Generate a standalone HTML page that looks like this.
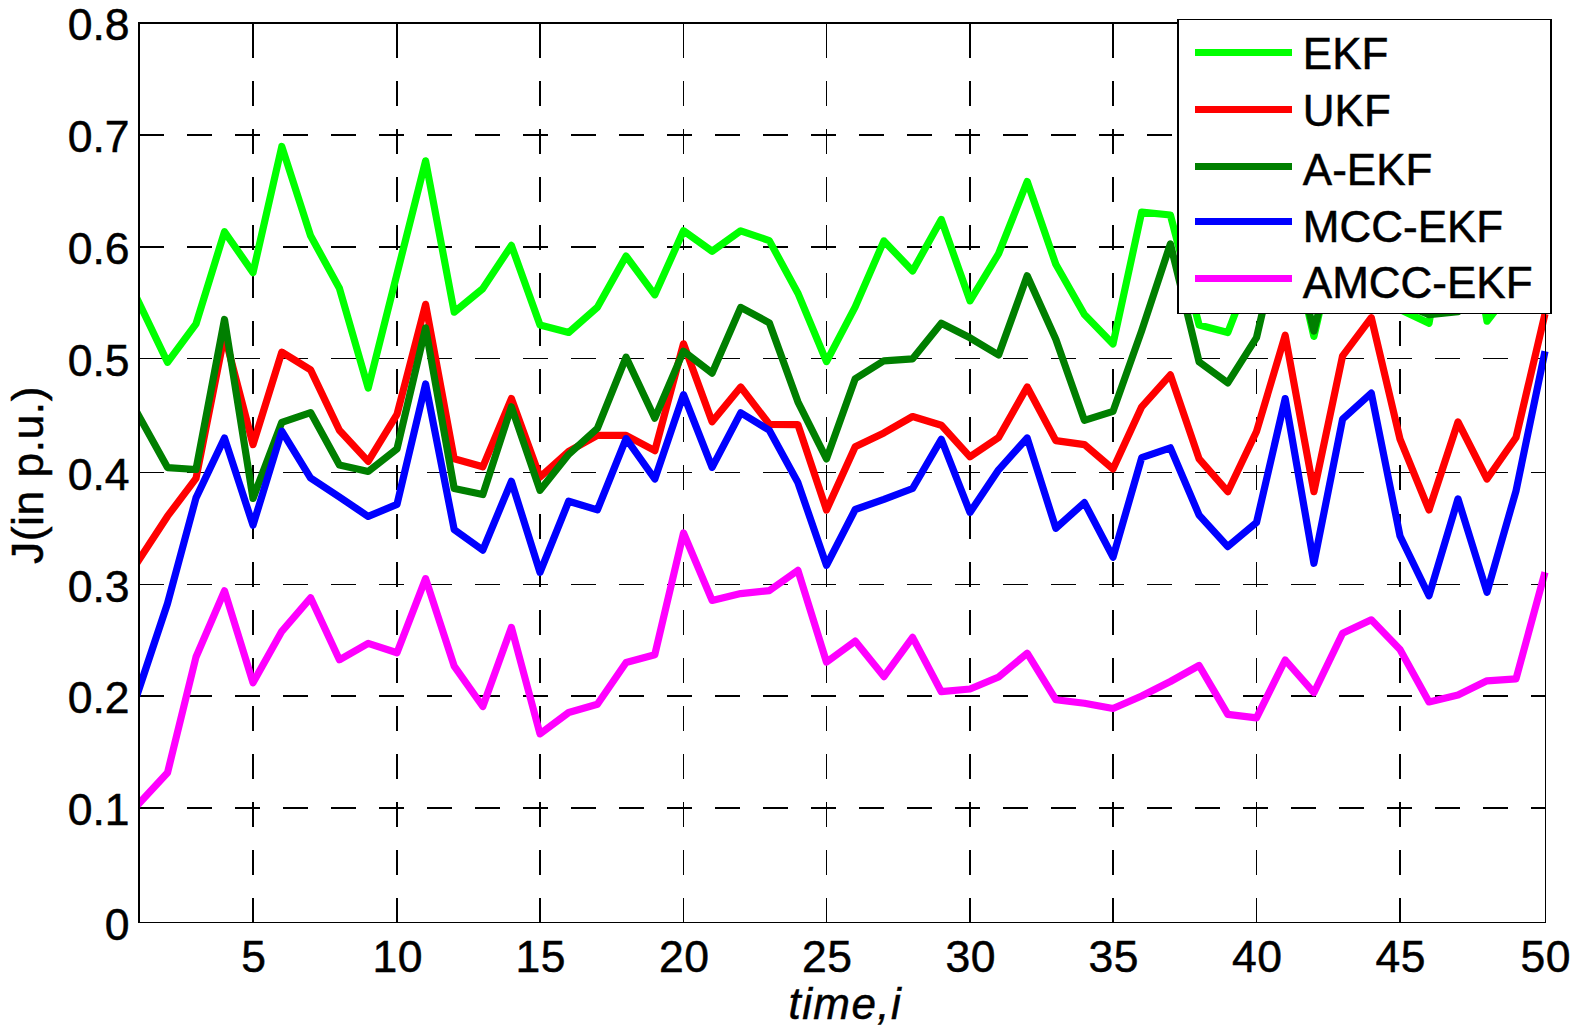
<!DOCTYPE html>
<html><head><meta charset="utf-8"><title>J(in p.u.) vs time,i</title>
<style>html,body{margin:0;padding:0;background:#fff}body{width:1579px;height:1035px;overflow:hidden}</style></head>
<body>
<svg width="1579" height="1035" viewBox="0 0 1579 1035" style="display:block" font-family='"Liberation Sans", sans-serif' font-size="44.5" fill="#000">
<style>text{stroke:#000;stroke-width:0.5px;letter-spacing:0.5px}</style>
<rect x="0" y="0" width="1579" height="1035" fill="#fff"/>
<g stroke="#000" fill="none" shape-rendering="crispEdges"><line x1="253.0" y1="923" x2="253.0" y2="22" stroke-width="2" stroke-dasharray="25 23.06"/><line x1="253.0" y1="23" x2="253.0" y2="37" stroke-width="2"/><line x1="397.0" y1="923" x2="397.0" y2="22" stroke-width="2" stroke-dasharray="25 23.06"/><line x1="397.0" y1="23" x2="397.0" y2="37" stroke-width="2"/><line x1="540.0" y1="923" x2="540.0" y2="22" stroke-width="2" stroke-dasharray="25 23.06"/><line x1="540.0" y1="23" x2="540.0" y2="37" stroke-width="2"/><line x1="683.5" y1="923" x2="683.5" y2="22" stroke-width="1" stroke-dasharray="25 23.06"/><line x1="683.5" y1="23" x2="683.5" y2="37" stroke-width="1"/><line x1="826.5" y1="923" x2="826.5" y2="22" stroke-width="1" stroke-dasharray="25 23.06"/><line x1="826.5" y1="23" x2="826.5" y2="37" stroke-width="1"/><line x1="970.0" y1="923" x2="970.0" y2="22" stroke-width="2" stroke-dasharray="25 23.06"/><line x1="970.0" y1="23" x2="970.0" y2="37" stroke-width="2"/><line x1="1113.0" y1="923" x2="1113.0" y2="22" stroke-width="2" stroke-dasharray="25 23.06"/><line x1="1113.0" y1="23" x2="1113.0" y2="37" stroke-width="2"/><line x1="1256.5" y1="923" x2="1256.5" y2="22" stroke-width="1" stroke-dasharray="25 23.06"/><line x1="1256.5" y1="23" x2="1256.5" y2="37" stroke-width="1"/><line x1="1400.0" y1="923" x2="1400.0" y2="22" stroke-width="2" stroke-dasharray="25 23.06"/><line x1="1400.0" y1="23" x2="1400.0" y2="37" stroke-width="2"/><line x1="139" y1="808.0" x2="1546" y2="808.0" stroke-width="2" stroke-dasharray="25 23"/><line x1="1531" y1="808.0" x2="1546" y2="808.0" stroke-width="2"/><line x1="139" y1="696.0" x2="1546" y2="696.0" stroke-width="2" stroke-dasharray="25 23"/><line x1="1531" y1="696.0" x2="1546" y2="696.0" stroke-width="2"/><line x1="139" y1="584.5" x2="1546" y2="584.5" stroke-width="1" stroke-dasharray="25 23"/><line x1="1531" y1="584.5" x2="1546" y2="584.5" stroke-width="1"/><line x1="139" y1="472.5" x2="1546" y2="472.5" stroke-width="1" stroke-dasharray="25 23"/><line x1="1531" y1="472.5" x2="1546" y2="472.5" stroke-width="1"/><line x1="139" y1="358.5" x2="1546" y2="358.5" stroke-width="1" stroke-dasharray="25 23"/><line x1="1531" y1="358.5" x2="1546" y2="358.5" stroke-width="1"/><line x1="139" y1="247.0" x2="1546" y2="247.0" stroke-width="2" stroke-dasharray="25 23"/><line x1="1531" y1="247.0" x2="1546" y2="247.0" stroke-width="2"/><line x1="139" y1="135.0" x2="1546" y2="135.0" stroke-width="2" stroke-dasharray="25 23"/><line x1="1531" y1="135.0" x2="1546" y2="135.0" stroke-width="2"/></g>
<clipPath id="c"><rect x="138" y="22" width="1411" height="902"/></clipPath>
<g clip-path="url(#c)" fill="none" stroke-width="7.2" stroke-linejoin="round" stroke-linecap="butt"><polyline points="136.0,296.5 139.0,302.7 167.5,362.3 196.0,323.9 224.5,231.7 253.0,272.6 281.8,146.5 310.6,235.8 339.4,288.3 368.2,388.1 397.0,273.8 425.6,160.8 454.2,312.1 482.8,288.6 511.4,245.4 540.0,325.0 568.7,332.5 597.4,307.2 626.1,256.1 654.8,294.8 683.5,230.8 712.1,251.3 740.7,230.8 769.3,240.6 797.9,293.2 826.5,361.6 855.2,306.9 883.9,240.9 912.6,271.0 941.3,219.5 970.0,300.8 998.6,253.7 1027.2,181.5 1055.8,264.3 1084.4,314.5 1113.0,344.0 1141.7,212.1 1170.4,215.0 1199.1,325.0 1227.8,332.5 1256.5,258.2 1285.2,212.1 1313.9,336.4 1342.6,212.1 1371.3,224.6 1400.0,309.4 1429.0,323.3 1458.0,156.1 1487.0,321.2 1516.0,283.8 1545.0,247.0" stroke="#00ff00"/><polyline points="136.0,564.5 139.0,559.9 167.5,516.2 196.0,478.4 224.5,334.9 253.0,444.6 281.8,352.1 310.6,369.9 339.4,430.3 368.2,461.4 397.0,414.4 425.6,304.3 454.2,458.8 482.8,466.8 511.4,398.6 540.0,477.2 568.7,451.3 597.4,435.3 626.1,435.3 654.8,450.7 683.5,343.8 712.1,421.8 740.7,387.0 769.3,424.3 797.9,424.6 826.5,510.0 855.2,446.7 883.9,432.9 912.6,416.5 941.3,425.2 970.0,456.8 998.6,437.5 1027.2,387.0 1055.8,440.6 1084.4,444.6 1113.0,468.9 1141.7,406.8 1170.4,374.9 1199.1,458.8 1227.8,491.7 1256.5,431.5 1285.2,335.3 1313.9,491.7 1342.6,355.8 1371.3,317.7 1400.0,439.1 1429.0,510.0 1458.0,422.0 1487.0,479.0 1516.0,437.5 1545.0,313.9" stroke="#ff0000"/><polyline points="136.0,410.6 139.0,416.1 167.5,467.6 196.0,469.5 224.5,319.5 253.0,498.4 281.8,422.3 310.6,412.6 339.4,465.1 368.2,471.5 397.0,448.9 425.6,327.8 454.2,488.5 482.8,494.6 511.4,406.8 540.0,490.3 568.7,454.3 597.4,428.3 626.1,357.2 654.8,418.2 683.5,351.2 712.1,373.1 740.7,307.4 769.3,322.8 797.9,401.8 826.5,458.9 855.2,378.7 883.9,360.8 912.6,358.8 941.3,323.2 970.0,337.8 998.6,355.0 1027.2,275.8 1055.8,339.3 1084.4,420.4 1113.0,411.4 1141.7,330.6 1170.4,243.9 1199.1,361.9 1227.8,382.9 1256.5,337.6 1285.2,214.9 1313.9,331.1 1342.6,214.9 1371.3,247.0 1400.0,302.7 1429.0,314.6 1458.0,311.7 1487.0,280.5 1516.0,269.3 1545.0,247.0" stroke="#007f00"/><polyline points="136.0,698.0 139.0,689.0 167.5,603.5 196.0,497.9 224.5,438.0 253.0,525.2 281.8,431.1 310.6,478.1 339.4,497.1 368.2,516.4 397.0,504.4 425.6,384.0 454.2,529.6 482.8,550.2 511.4,481.3 540.0,572.4 568.7,501.2 597.4,509.9 626.1,438.7 654.8,479.0 683.5,394.6 712.1,467.4 740.7,412.8 769.3,430.3 797.9,482.6 826.5,565.4 855.2,509.5 883.9,499.4 912.6,488.5 941.3,439.3 970.0,512.4 998.6,469.8 1027.2,438.0 1055.8,528.2 1084.4,502.6 1113.0,557.2 1141.7,457.7 1170.4,447.8 1199.1,515.1 1227.8,546.6 1256.5,522.6 1285.2,398.6 1313.9,563.3 1342.6,419.1 1371.3,393.1 1400.0,536.0 1429.0,595.8 1458.0,498.9 1487.0,592.2 1516.0,490.9 1545.0,351.3" stroke="#0000ff"/><polyline points="136.0,806.8 139.0,803.5 167.5,772.8 196.0,657.0 224.5,590.8 253.0,682.7 281.8,631.3 310.6,597.8 339.4,659.8 368.2,643.4 397.0,652.7 425.6,578.6 454.2,666.2 482.8,706.5 511.4,627.4 540.0,733.9 568.7,712.5 597.4,704.3 626.1,662.5 654.8,654.7 683.5,533.0 712.1,600.4 740.7,593.6 769.3,590.6 797.9,570.4 826.5,662.1 855.2,641.1 883.9,676.6 912.6,637.4 941.3,691.7 970.0,689.0 998.6,677.0 1027.2,653.2 1055.8,699.7 1084.4,703.3 1113.0,708.5 1141.7,696.0 1170.4,681.5 1199.1,665.5 1227.8,714.4 1256.5,717.8 1285.2,660.0 1313.9,692.7 1342.6,633.3 1371.3,619.8 1400.0,649.5 1429.0,701.9 1458.0,695.1 1487.0,680.8 1516.0,678.9 1545.0,572.2" stroke="#ff00ff"/></g>
<g stroke="#000" fill="none" shape-rendering="crispEdges"><line x1="139" y1="22" x2="139" y2="923" stroke-width="2"/><line x1="138" y1="23" x2="1546" y2="23" stroke-width="2"/><line x1="138" y1="922.5" x2="1546" y2="922.5" stroke-width="1"/><line x1="1545.5" y1="22" x2="1545.5" y2="923" stroke-width="1"/></g>
<text x="129.6" y="939.8" text-anchor="end" style="letter-spacing:0">0</text>
<text x="129.6" y="825.3" text-anchor="end" style="letter-spacing:0">0.1</text>
<text x="129.6" y="713.3" text-anchor="end" style="letter-spacing:0">0.2</text>
<text x="129.6" y="601.8" text-anchor="end" style="letter-spacing:0">0.3</text>
<text x="129.6" y="489.8" text-anchor="end" style="letter-spacing:0">0.4</text>
<text x="129.6" y="375.8" text-anchor="end" style="letter-spacing:0">0.5</text>
<text x="129.6" y="264.3" text-anchor="end" style="letter-spacing:0">0.6</text>
<text x="129.6" y="152.3" text-anchor="end" style="letter-spacing:0">0.7</text>
<text x="129.6" y="40.3" text-anchor="end" style="letter-spacing:0">0.8</text>
<text x="253.8" y="972.2" text-anchor="middle">5</text>
<text x="397.8" y="972.2" text-anchor="middle">10</text>
<text x="540.8" y="972.2" text-anchor="middle">15</text>
<text x="684.3" y="972.2" text-anchor="middle">20</text>
<text x="827.3" y="972.2" text-anchor="middle">25</text>
<text x="970.8" y="972.2" text-anchor="middle">30</text>
<text x="1113.8" y="972.2" text-anchor="middle">35</text>
<text x="1257.3" y="972.2" text-anchor="middle">40</text>
<text x="1400.8" y="972.2" text-anchor="middle">45</text>
<text x="1545.8" y="972.2" text-anchor="middle">50</text>
<text x="845.3" y="1018.9" text-anchor="middle" font-style="italic" font-size="44" style="letter-spacing:1.4px">time,i</text>
<text transform="translate(42.5,475) rotate(-90)" text-anchor="middle">J(in p.u.)</text>
<rect x="1177" y="19" width="375" height="295" fill="#fff"/>
<g stroke="#000" fill="none" shape-rendering="crispEdges"><line x1="1178" y1="19" x2="1178" y2="314" stroke-width="2"/><line x1="1551" y1="19" x2="1551" y2="314" stroke-width="2"/><line x1="1177" y1="19.5" x2="1552" y2="19.5" stroke-width="1"/><line x1="1177" y1="313.5" x2="1552" y2="313.5" stroke-width="1"/></g>
<line x1="1195" y1="52.4" x2="1292" y2="52.4" stroke="#00ff00" stroke-width="7"/>
<text x="1302.8" y="68.7" font-size="44" style="letter-spacing:0">EKF</text>
<line x1="1195" y1="109.5" x2="1292" y2="109.5" stroke="#ff0000" stroke-width="7"/>
<text x="1302.8" y="125.7" font-size="44" style="letter-spacing:0">UKF</text>
<line x1="1195" y1="166.6" x2="1292" y2="166.6" stroke="#007f00" stroke-width="7"/>
<text x="1302.8" y="184.7" font-size="44" style="letter-spacing:0">A-EKF</text>
<line x1="1195" y1="221.4" x2="1292" y2="221.4" stroke="#0000ff" stroke-width="7"/>
<text x="1302.8" y="241.5" font-size="44" style="letter-spacing:0">MCC-EKF</text>
<line x1="1195" y1="278.6" x2="1292" y2="278.6" stroke="#ff00ff" stroke-width="7"/>
<text x="1302.8" y="298.3" font-size="44" style="letter-spacing:0">AMCC-EKF</text>
</svg>
</body></html>
